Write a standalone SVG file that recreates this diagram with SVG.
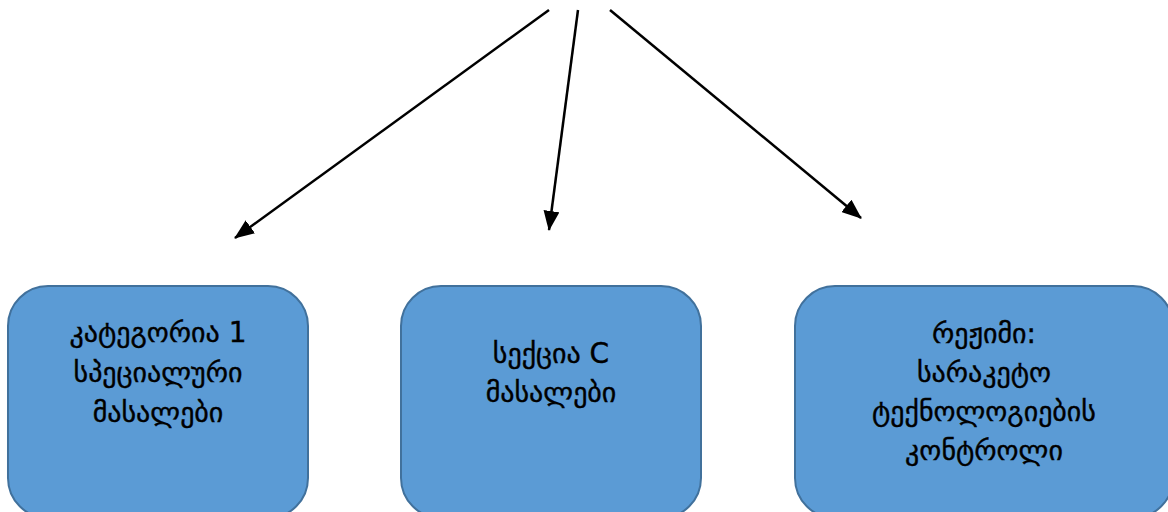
<svg xmlns="http://www.w3.org/2000/svg" width="1168" height="512" viewBox="0 0 1168 512">
  <style>
    .box { fill: #5B9BD5; stroke: #41719C; stroke-width: 2; }
    .lbl { font-family: "DejaVu Sans", "Noto Sans", sans-serif; font-size: 28px; fill: #000; stroke: #000; stroke-width: 0.4; text-anchor: middle; }
    .edge { stroke: #000; stroke-width: 2.5; fill: none; marker-end: url(#head); }
  </style>
  <defs>
    <marker id="head" markerUnits="userSpaceOnUse" markerWidth="20" markerHeight="16" refX="19" refY="8" orient="auto">
      <path d="M0,0 L20,8 L0,16 Z" fill="#000"/>
    </marker>
  </defs>
  <rect width="1168" height="512" fill="#fff"/>

  <g id="connectors">
    <line class="edge" x1="549" y1="10" x2="235" y2="238"/>
    <line class="edge" x1="578" y1="10" x2="549" y2="230"/>
    <line class="edge" x1="610" y1="10" x2="861" y2="218"/>
  </g>

  <g id="node-category">
    <rect class="box" x="8" y="286" width="300" height="232" rx="40" ry="40"/>
    <text class="lbl" x="158" y="342">კატეგორია 1</text>
    <text class="lbl" x="158" y="382">სპეციალური</text>
    <text class="lbl" x="158" y="422">მასალები</text>
  </g>

  <g id="node-section">
    <rect class="box" x="401" y="286" width="300" height="232" rx="40" ry="40"/>
    <text class="lbl" x="551" y="363">სექცია C</text>
    <text class="lbl" x="551" y="402">მასალები</text>
  </g>

  <g id="node-regime">
    <rect class="box" x="795" y="286" width="378" height="232" rx="40" ry="40"/>
    <text class="lbl" x="984" y="343">რეჟიმი:</text>
    <text class="lbl" x="984" y="382">სარაკეტო</text>
    <text class="lbl" x="984" y="421">ტექნოლოგიების</text>
    <text class="lbl" x="984" y="460">კონტროლი</text>
  </g>
</svg>
